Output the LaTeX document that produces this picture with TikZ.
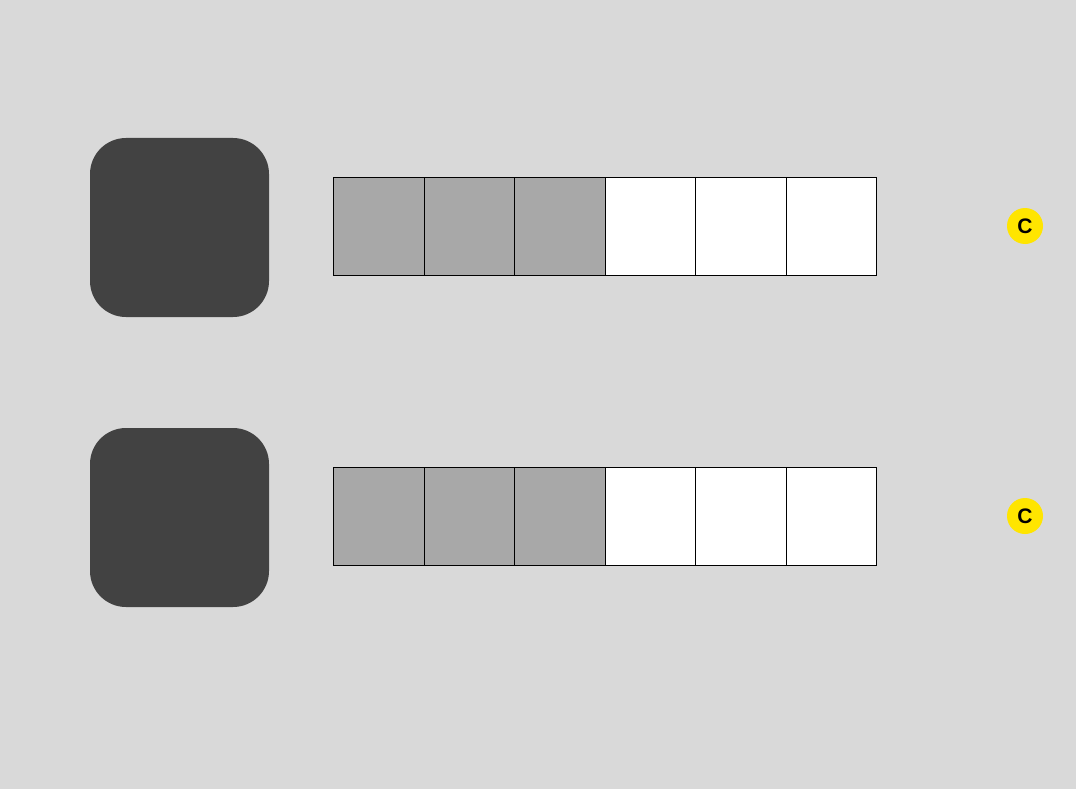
\documentclass[tikz,border=0pt]{standalone}
\usepackage{fontspec}
\setmainfont{Liberation Sans}
\definecolor{bgc}{HTML}{D9D9D9}
\definecolor{darkc}{HTML}{424242}
\definecolor{grayc}{HTML}{A8A8A8}
\definecolor{yelc}{HTML}{FFE500}
\begin{document}
\begin{tikzpicture}[x=1pt,y=-1pt,
  bigbox/.style={fill=darkc,rounded corners=36pt,draw=none},
  cellg/.style={draw=black,line width=1pt,fill=grayc,minimum width=90.5pt,minimum height=98pt,inner sep=0pt,anchor=north west},
  cellw/.style={cellg,fill=white},
  badge/.style={circle,fill=yelc,minimum size=36pt,inner sep=0pt,font=\fontsize{21}{21}\selectfont\bfseries}]
\fill[bgc] (0,0) rectangle (1076,789);
\useasboundingbox (0,0) rectangle (1076,789);
\foreach \r/\yy in {1/138,2/428}{
  \fill[bigbox] (90,\yy) rectangle (269,\yy+179);
  \foreach \i in {0,1,2}{
    \node[cellg] (g\r\i) at (333+90.5*\i,\yy+39) {};
  }
  \foreach \i in {3,4,5}{
    \node[cellw] (w\r\i) at (333+90.5*\i,\yy+39) {};
  }
  \node[badge] (c\r) at (1025,\yy+88) {C};
}
\end{tikzpicture}
\end{document}
